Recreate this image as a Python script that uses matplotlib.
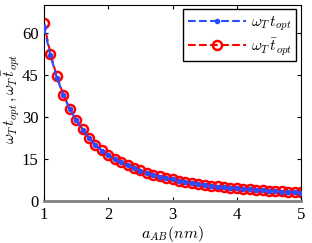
import matplotlib
matplotlib.use('Agg')
import matplotlib.pyplot as plt

plt.rcParams['font.family'] = ['Liberation Serif', 'DejaVu Serif']
plt.rcParams['mathtext.fontset'] = 'cm'

a_ab = [1.0, 1.1, 1.2, 1.3, 1.4, 1.5, 1.6, 1.7, 1.8, 1.9, 2.0,
        2.1, 2.2, 2.3, 2.4, 2.5, 2.6, 2.7, 2.8, 2.9, 3.0,
        3.1, 3.2, 3.3, 3.4, 3.5, 3.6, 3.7, 3.8, 3.9, 4.0,
        4.1, 4.2, 4.3, 4.4, 4.5, 4.6, 4.7, 4.8, 4.9, 5.0]
t_opt = [62.0, 52.0, 44.0, 37.8, 32.8, 28.9, 25.5, 22.5, 20.0, 18.0, 16.4,
         15.0, 13.8, 12.7, 11.7, 10.8, 10.0, 9.3, 8.7, 8.2, 7.7,
         7.2, 6.8, 6.4, 6.0, 5.7, 5.4, 5.1, 4.9, 4.7, 4.5,
         4.3, 4.1, 3.9, 3.8, 3.6, 3.5, 3.3, 3.2, 3.1, 3.0]
tbar_opt = [63.5, 52.5, 44.5, 38.0, 33.0, 29.0, 25.6, 22.6, 20.1, 18.1, 16.5,
            15.1, 13.9, 12.8, 11.8, 10.9, 10.1, 9.4, 8.8, 8.3, 7.8,
            7.3, 6.9, 6.5, 6.1, 5.8, 5.5, 5.2, 5.0, 4.8, 4.6,
            4.4, 4.2, 4.0, 3.9, 3.7, 3.6, 3.4, 3.3, 3.2, 3.1]

fig = plt.figure(figsize=(3.12, 2.43), dpi=100)
ax = fig.add_axes([0.141, 0.173, 0.824, 0.807])

ax.plot(a_ab, t_opt, '--', color='#2b4cff', marker='.', markersize=6, lw=1.5,
        label=r'$\omega_T\,t_{opt}$', zorder=3)
ax.plot(a_ab, tbar_opt, '--', color='red', marker='o', markersize=6.5, mfc='none',
        mew=1.8, lw=1.5, label=r'$\omega_T\,\bar{t}_{opt}$', zorder=2)

ax.set_xlim(1, 5)
ax.set_ylim(0, 70)
ax.set_xticks([1, 2, 3, 4, 5])
ax.set_yticks([0, 15, 30, 45, 60])
ax.tick_params(direction='in', top=True, right=True, labelsize=12, length=3, pad=4)
ax.spines['bottom'].set_color('#808080')
ax.spines['bottom'].set_linewidth(2)

ax.set_xlabel(r'$a_{AB}(nm)$', fontsize=11.5, va='center')
ax.xaxis.set_label_coords(0.498, -0.168)
ax.set_ylabel(r'$\omega_T\,t_{opt}\,,\omega_T\,\bar{t}_{opt}$', fontsize=11, va='center')
ax.yaxis.set_label_coords(-0.13, 0.52)

leg = ax.legend(loc='upper right', fontsize=11, handlelength=3.8, fancybox=False,
                edgecolor='black', framealpha=1, borderpad=0.3, labelspacing=0.2,
                handletextpad=0.3, borderaxespad=0.3)
leg.get_frame().set_linewidth(1)

fig.savefig('out.png', dpi=100)
